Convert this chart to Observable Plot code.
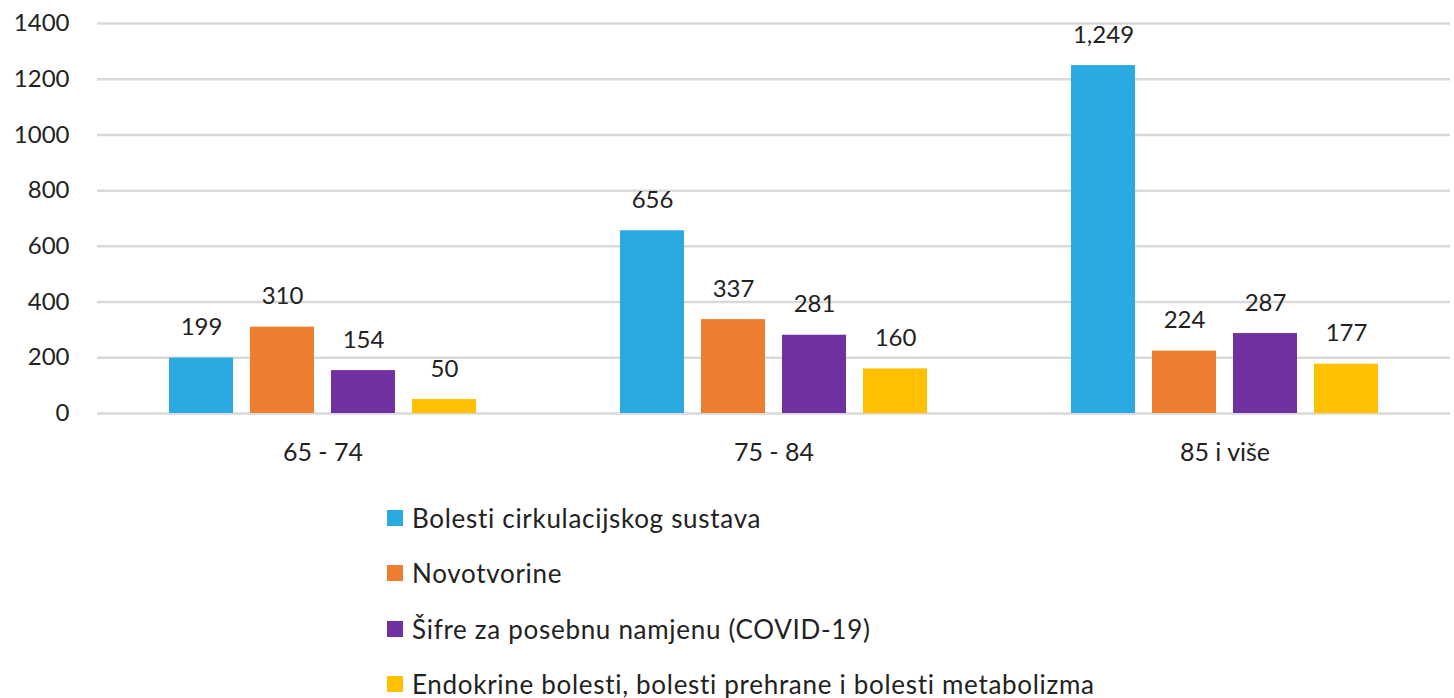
<!DOCTYPE html>
<html>
<head>
<meta charset="utf-8">
<script src="https://cdn.jsdelivr.net/npm/d3@7"></script>
<script src="https://cdn.jsdelivr.net/npm/@observablehq/plot@0.6"></script>
<style>
  html, body { margin: 0; padding: 0; background: #fff; }
  body { width: 1454px; height: 698px; overflow: hidden; font-family: Lato, sans-serif; color: #222; }
  #legend { position: relative; margin-top: 0px; }
  .item { height: 55.5px; display: flex; align-items: center; padding-left: 387px; font-size: 26px; letter-spacing: 0.7px; }
  .sw { width: 16px; height: 16px; margin-right: 9px; flex: none; }
</style>
</head>
<body>
<div id="chart"></div>
<div id="legend"></div>
<script>
const categories = ["65 - 74", "75 - 84", "85 i više"];
const seriesNames = [
  "Bolesti cirkulacijskog sustava",
  "Novotvorine",
  "Šifre za posebnu namjenu (COVID-19)",
  "Endokrine bolesti, bolesti prehrane i bolesti metabolizma"
];
const seriesColors = ["#29ABE2", "#ED7D31", "#7030A0", "#FFC000"];
const cirkulacijski = [199, 656, 1249];
const novotvorine = [310, 337, 224];
const covid = [154, 281, 287];
const endokrine = [50, 160, 177];
const yTicks = [0, 200, 400, 600, 800, 1000, 1200, 1400];

const seriesValues = [cirkulacijski, novotvorine, covid, endokrine];
const data = [];
categories.forEach((c, i) => {
  seriesNames.forEach((s, j) => {
    data.push({category: c, series: s, value: seriesValues[j][i]});
  });
});

const fmt = d3.format(",");

const chart = Plot.plot({
  width: 1454,
  height: 490,
  marginTop: 23,
  marginBottom: 77,
  marginLeft: 97,
  marginRight: 4,
  style: {fontFamily: "Lato, sans-serif", fontSize: "24px", color: "#222", background: "#fff"},
  fx: {domain: categories, padding: 0, label: null},
  x: {domain: seriesNames, paddingInner: 0.207, paddingOuter: 0.864, axis: null},
  y: {domain: [0, 1400], ticks: yTicks, label: null},
  color: {domain: seriesNames, range: seriesColors},
  marks: [
    Plot.gridY(yTicks, {stroke: "#d9d9d9", strokeOpacity: 1, strokeWidth: 2.5}),
    Plot.axisY(yTicks, {tickSize: 0, tickPadding: 28, fontSize: 24, fill: "#222", label: null, tickFormat: d => String(d)}),
    Plot.axisFx({anchor: "bottom", tickSize: 0, tickPadding: 30, fontSize: 25, fill: "#222", label: null}),
    Plot.barY(data, {fx: "category", x: "series", y: "value", fill: "series"}),
    Plot.text(data, {fx: "category", x: "series", y: "value", text: d => fmt(d.value),
      lineAnchor: "bottom", dy: -23, fontSize: 24, fill: "#222"})
  ]
});
document.getElementById("chart").appendChild(chart);

const legend = document.getElementById("legend");
seriesNames.forEach((s, i) => {
  const item = document.createElement("div");
  item.className = "item";
  const sw = document.createElement("span");
  sw.className = "sw";
  sw.style.background = seriesColors[i];
  const t = document.createElement("span");
  t.textContent = s;
  item.appendChild(sw);
  item.appendChild(t);
  legend.appendChild(item);
});
</script>
</body>
</html>
